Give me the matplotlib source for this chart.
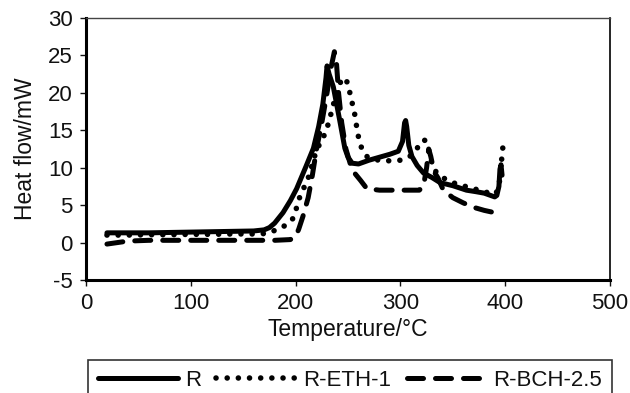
import matplotlib
matplotlib.use("Agg")
import matplotlib.pyplot as plt

plt.rcParams['font.family'] = ['Liberation Sans', 'DejaVu Sans']
plt.rcParams['axes.unicode_minus'] = False

# DSC traces: temperature (°C) and heat flow (mW)
r_temp = [20, 40, 60, 80, 100, 120, 140, 160, 170, 175, 180, 188, 195, 201, 210,
          217, 222, 226, 229, 230, 232, 236, 242, 247, 250, 254, 260, 270, 280,
          290, 298, 302, 304, 305, 306, 308, 311, 316, 322, 330, 338, 350, 363,
          372, 380, 386, 390, 392, 394, 395, 396, 397]
r_heat = [1.3, 1.3, 1.3, 1.35, 1.4, 1.45, 1.5, 1.55, 1.7, 2.0, 2.6, 4.0, 5.6, 7.2,
          10.2, 12.6, 15.5, 18.5, 22.0, 23.6, 22.5, 20.8, 16.4, 12.6, 11.4, 10.6,
          10.5, 11.0, 11.4, 11.8, 12.2, 13.5, 16.0, 16.3, 15.5, 13.0, 11.5, 10.3,
          9.3, 8.7, 8.0, 7.6, 7.0, 6.8, 6.6, 6.3, 6.1, 6.3, 7.5, 9.8, 10.4, 9.0]

eth_temp = [20, 40, 60, 80, 100, 120, 140, 160, 170, 178, 188, 194, 198, 204, 212,
            220, 226, 230, 233, 236, 240, 244, 247, 250, 253, 256, 258, 260, 263,
            268, 275, 285, 300, 310, 316, 320, 323, 326, 329, 333, 340, 350, 362,
            375, 385, 391, 394, 396, 397, 398]
eth_heat = [1.0, 1.0, 1.05, 1.05, 1.1, 1.1, 1.15, 1.15, 1.2, 1.5, 2.1, 2.7, 3.3,
            6.1, 8.6, 12.4, 13.9, 15.3, 16.8, 18.4, 20.5, 21.8, 22.0, 21.2, 19.2,
            17.5, 15.7, 14.1, 12.6, 11.5, 11.1, 10.9, 11.0, 11.6, 12.6, 13.5, 13.7,
            13.0, 11.0, 9.6, 8.7, 8.0, 7.5, 7.0, 6.6, 6.5, 7.5, 10.0, 11.8, 13.0]

bch_temp = [20, 30, 40, 60, 80, 100, 120, 140, 160, 180, 195, 200, 203, 207, 212,
            216, 220, 225, 230, 234, 237, 239, 241, 244, 248, 252, 255, 262, 268,
            280, 300, 318, 322, 325, 327, 329, 332, 336, 341, 350, 360, 370, 380,
            393]
bch_heat = [-0.2, 0.0, 0.2, 0.3, 0.3, 0.3, 0.3, 0.3, 0.3, 0.3, 0.4, 0.8, 1.8,
            3.5, 6.0, 9.0, 12.5, 16.0, 20.0, 23.5, 25.5, 24.0, 20.0, 16.0, 12.5,
            10.6, 9.5, 8.3, 7.2, 7.0, 7.0, 7.0, 7.5, 10.0, 12.5, 11.5, 9.5, 8.6,
            7.0, 6.0, 5.3, 4.7, 4.3, 3.9]

series_labels = ['R', 'R-ETH-1', 'R-BCH-2.5']
x_ticks = [0, 100, 200, 300, 400, 500]
y_ticks = [-5, 0, 5, 10, 15, 20, 25, 30]

fig = plt.figure(figsize=(6.3, 3.93), dpi=100)
ax = fig.add_axes([86 / 630, 1 - 280 / 393, (610 - 86) / 630, (280 - 18) / 393])

lw = 3.6
ax.plot(r_temp, r_heat, color='black', lw=lw, solid_capstyle='round',
        solid_joinstyle='round', label=series_labels[0])
ax.plot(eth_temp, eth_heat, color='black', lw=4.0,
        linestyle=(0, (0.01, 2.0)), dash_capstyle='round', label=series_labels[1])
ax.plot(bch_temp, bch_heat, color='black', lw=lw,
        linestyle=(0, (3.2, 2.4)), dash_capstyle='round', label=series_labels[2])

ax.set_xlim(0, 500)
ax.set_ylim(-5, 30)
ax.set_xticks(x_ticks)
ax.set_yticks(y_ticks)

for side in ('left', 'bottom'):
    ax.spines[side].set_linewidth(2.2)
ax.spines['right'].set_linewidth(1.2)
ax.spines['top'].set_linewidth(1.0)
ax.spines['top'].set_color('#444444')

ax.tick_params(axis='both', direction='out', length=4.5, width=1.0,
               labelsize=16, colors='#111111')
ax.tick_params(axis='x', pad=5)
ax.tick_params(axis='y', pad=5)

ax.set_xlabel('Temperature/°C', fontsize=16.5, labelpad=3, color='#111111')
ax.set_ylabel('Heat flow/mW', fontsize=16.5, labelpad=8, color='#111111')

leg = fig.legend(loc='upper left', ncol=3, mode='expand',
                 bbox_to_anchor=(88 / 630, 1 - 360 / 393 - 1, (612 - 88) / 630, 1),
                 borderaxespad=0, fontsize=16, frameon=True, fancybox=False,
                 handlelength=3.6, handletextpad=0.3, borderpad=0.45)
leg.get_frame().set_edgecolor('black')
leg.get_frame().set_linewidth(1.2)
for txt in leg.get_texts():
    txt.set_color('#111111')

fig.savefig('out.png', dpi=100)
